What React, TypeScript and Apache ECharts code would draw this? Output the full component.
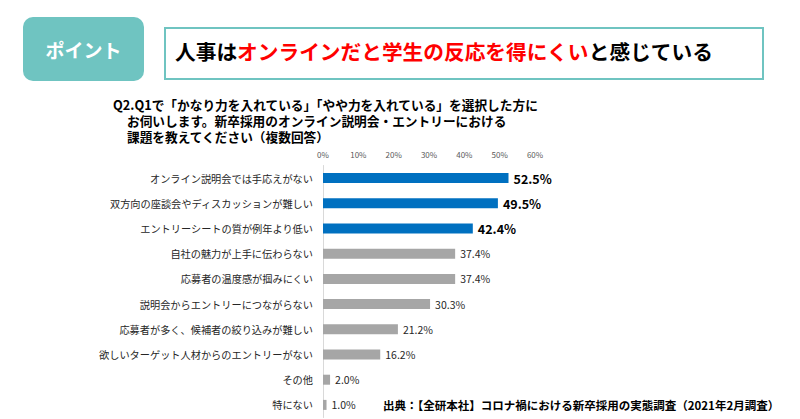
import React, { useEffect, useRef } from "react";
import * as echarts from "echarts";

const categories = [
  "オンライン説明会では手応えがない",
  "双方向の座談会やディスカッションが難しい",
  "エントリーシートの質が例年より低い",
  "自社の魅力が上手に伝わらない",
  "応募者の温度感が掴みにくい",
  "説明会からエントリーにつながらない",
  "応募者が多く、候補者の絞り込みが難しい",
  "欲しいターゲット人材からのエントリーがない",
  "その他",
  "特にない",
];
const values = [52.5, 49.5, 42.4, 37.4, 37.4, 30.3, 21.2, 16.2, 2.0, 1.0];
const highlightCount = 3;
const xTicks = [0, 10, 20, 30, 40, 50, 60];

const titleBlack1 = "人事は";
const titleRed = "オンラインだと学生の反応を得にくい";
const titleBlack2 = "と感じている";
const questionLines = [
  "Q2.Q1で「かなり力を入れている」「やや力を入れている」を選択した方に",
  "お伺いします。新卒採用のオンライン説明会・エントリーにおける",
  "課題を教えてください（複数回答）",
];
const sourceText = "出典：【全研本社】コロナ禍における新卒採用の実態調査（2021年2月調査）";

const FONT = "'Noto Sans CJK JP', 'Noto Sans', sans-serif";
const BLUE = "#0070c0";
const GRAY = "#a6a6a6";
const TEAL = "#6fc4c1";

export default function App() {
  const ref = useRef<HTMLDivElement>(null);
  useEffect(() => {
    const chart = echarts.init(ref.current!, null, { renderer: "svg" });
    const data = values.map((v, i) => {
      const hi = i < highlightCount;
      return {
        value: v,
        itemStyle: { color: hi ? BLUE : GRAY },
        label: {
          fontSize: hi ? 12.5 : 10.5,
          fontWeight: hi ? "bold" : "normal",
          color: hi ? "#000" : "#262626",
        },
      };
    });
    const qX = [113, 127, 127];
    chart.setOption({
      animation: false,
      textStyle: { fontFamily: FONT },
      graphic: [
        {
          type: "rect",
          shape: { x: 23, y: 17, width: 121, height: 64, r: 10 },
          style: { fill: TEAL },
        },
        {
          type: "text",
          x: 83.5,
          y: 49,
          style: {
            text: "ポイント",
            fill: "#fff",
            font: `bold 19px ${FONT}`,
            align: "center",
            verticalAlign: "middle",
          },
        },
        {
          type: "rect",
          shape: { x: 165, y: 28, width: 598, height: 51 },
          style: { fill: "#fff", stroke: TEAL, lineWidth: 2 },
        },
        {
          type: "text",
          x: 175,
          y: 51,
          style: {
            text: `{k|${titleBlack1}}{r|${titleRed}}{k|${titleBlack2}}`,
            verticalAlign: "middle",
            rich: {
              k: { fontSize: 20.7, fontWeight: "bold", fill: "#000", fontFamily: FONT },
              r: { fontSize: 20.7, fontWeight: "bold", fill: "#ff0000", fontFamily: FONT },
            },
          },
        },
        ...questionLines.map((line, i) => ({
          type: "text",
          x: qX[i],
          y: 104 + i * 16,
          style: {
            text: line,
            font: `bold 12.7px ${FONT}`,
            fill: "#000",
            verticalAlign: "middle",
          },
        })),
        {
          type: "text",
          x: 383,
          y: 405,
          style: {
            text: sourceText,
            font: `bold 11.5px ${FONT}`,
            fill: "#000",
            verticalAlign: "middle",
          },
        },
      ],
      grid: { left: 323, right: 265, top: 165.5, height: 252 },
      xAxis: {
        type: "value",
        position: "top",
        min: 0,
        max: 60,
        interval: 10,
        axisLine: { show: false },
        axisTick: { show: false },
        splitLine: { show: false },
        axisLabel: {
          fontSize: 8,
          color: "#595959",
          margin: 7,
          formatter: (v: number) => (xTicks.includes(v) ? `${v}%` : ""),
        },
      },
      yAxis: {
        type: "category",
        inverse: true,
        data: categories,
        axisLine: { show: true, lineStyle: { color: "#d9d9d9", width: 1 } },
        axisTick: { show: false },
        axisLabel: { fontSize: 10.2, color: "#262626", margin: 10 },
      },
      series: [
        {
          type: "bar",
          data,
          barWidth: 10,
          label: {
            show: true,
            position: "right",
            distance: 5,
            formatter: (p: any) => `${Number(p.value).toFixed(1)}%`,
          },
        },
      ],
    });
    return () => chart.dispose();
  }, []);
  return (
    <div
      ref={ref}
      style={{ position: "fixed", left: 0, top: 0, width: 800, height: 419, background: "#fff" }}
    />
  );
}
